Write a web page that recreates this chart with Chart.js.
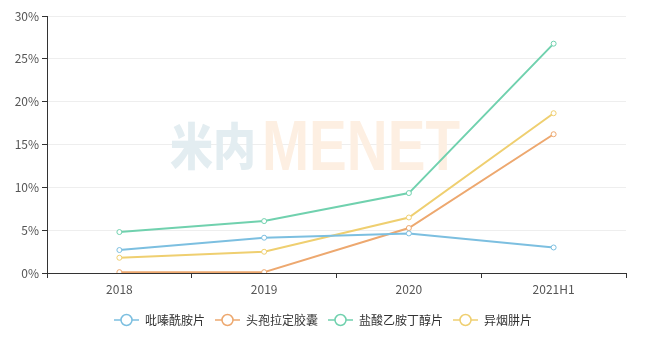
<!DOCTYPE html>
<html>
<head>
<meta charset="utf-8">
<script src="https://cdn.jsdelivr.net/npm/chart.js@4/dist/chart.umd.min.js"></script>
<style>
  html, body { margin: 0; padding: 0; background: #fff; }
  #wrap { width: 646px; height: 342px; }
</style>
</head>
<body>
<div id="wrap"><canvas id="c" width="646" height="342"></canvas></div>
<script>
  // categories and series (share, %)
  const periods = ["2018", "2019", "2020", "2021H1"];
  const pyrazinamide = [2.68, 4.12, 4.62, 2.98];
  const cefradine = [0.1, 0.1, 5.25, 16.2];
  const ethambutol = [4.78, 6.06, 9.33, 26.77];
  const isoniazid = [1.78, 2.48, 6.48, 18.65];
  const seriesNames = ["吡嗪酰胺片", "头孢拉定胶囊", "盐酸乙胺丁醇片", "异烟肼片"];
  const seriesColors = ["#7cbfe0", "#eda86f", "#70d1ae", "#efcf70"];
  const yMax = 30;
  const yStep = 5;

  const FONT = '"Noto Sans CJK SC", "Noto Sans", sans-serif';

  // legend icon: short line with a hollow circle
  function legendIcon(color) {
    const cv = document.createElement("canvas");
    cv.width = 25; cv.height = 14;
    const g = cv.getContext("2d");
    g.strokeStyle = color;
    g.lineWidth = 1.5;
    g.beginPath(); g.moveTo(0, 7); g.lineTo(25, 7); g.stroke();
    g.beginPath(); g.arc(12.5, 7, 5.5, 0, Math.PI * 2);
    g.fillStyle = "#fff"; g.fill(); g.stroke();
    return cv;
  }

  // faint logo text behind the lines
  const watermark = {
    id: "watermark",
    beforeDatasetsDraw(chart) {
      const ctx = chart.ctx;
      ctx.save();
      ctx.textBaseline = "alphabetic";
      function fitText(text, font, color, x, y, w, h) {
        ctx.font = font;
        const m = ctx.measureText(text);
        const tw = m.width;
        const th = m.actualBoundingBoxAscent + m.actualBoundingBoxDescent;
        ctx.save();
        ctx.translate(x, y + h);
        ctx.scale(w / tw, h / th);
        ctx.fillStyle = color;
        ctx.fillText(text, 0, -m.actualBoundingBoxDescent);
        ctx.restore();
      }
      fitText("米内", "900 60px " + FONT, "#e3edf1", 170, 122, 86, 48);
      fitText("MENET", "bold 60px 'Liberation Sans', sans-serif", "#fdefe2", 262, 122, 198, 48);
      ctx.restore();
    }
  };

  // center the legend on the full canvas width, not just the plot box
  const legendCenter = {
    id: "legendCenter",
    afterLayout(chart) {
      if (chart.legend) chart.legend.right += 20;
    }
  };

  const seriesData = [pyrazinamide, cefradine, ethambutol, isoniazid];

  new Chart(document.getElementById("c"), {
    type: "line",
    data: {
      labels: periods,
      datasets: seriesData.map((vals, i) => ({
        label: seriesNames[i],
        data: vals,
        borderColor: seriesColors[i],
        backgroundColor: "#fff",
        pointBorderColor: seriesColors[i],
        borderWidth: 2,
        tension: 0,
        pointRadius: 2.5,
        pointBorderWidth: 1,
        pointBackgroundColor: "#fff"
      }))
    },
    options: {
      responsive: false,
      animation: false,
      layout: { padding: { top: 16, right: 20, left: 0, bottom: 6 } },
      plugins: {
        tooltip: { enabled: false },
        legend: {
          position: "bottom",
          labels: {
            usePointStyle: true,
            pointStyleWidth: 25,
            padding: 10,
            color: "#333",
            font: { family: FONT, size: 12 },
            generateLabels(chart) {
              const items = Chart.defaults.plugins.legend.labels.generateLabels(chart);
              items.forEach((it, i) => { it.pointStyle = legendIcon(seriesColors[i]); });
              return items;
            }
          }
        }
      },
      scales: {
        x: {
          offset: true,
          afterFit(scale) { scale.height = 31; },
          border: { color: "#333", width: 1 },
          grid: { offset: true, drawOnChartArea: false, tickLength: 5, color: "#333" },
          ticks: { color: "#555", font: { family: FONT, size: 12 }, padding: 4 }
        },
        y: {
          min: 0,
          max: yMax,
          afterFit(scale) { scale.width = 47; },
          border: { color: "#333", width: 1 },
          grid: { color: "#eeeeee", tickColor: "#333", tickLength: 5 },
          ticks: {
            stepSize: yStep,
            color: "#555",
            font: { family: FONT, size: 12 },
            padding: 3,
            callback: (v) => v + "%"
          }
        }
      }
    },
    plugins: [watermark, legendCenter]
  });
</script>
</body>
</html>
